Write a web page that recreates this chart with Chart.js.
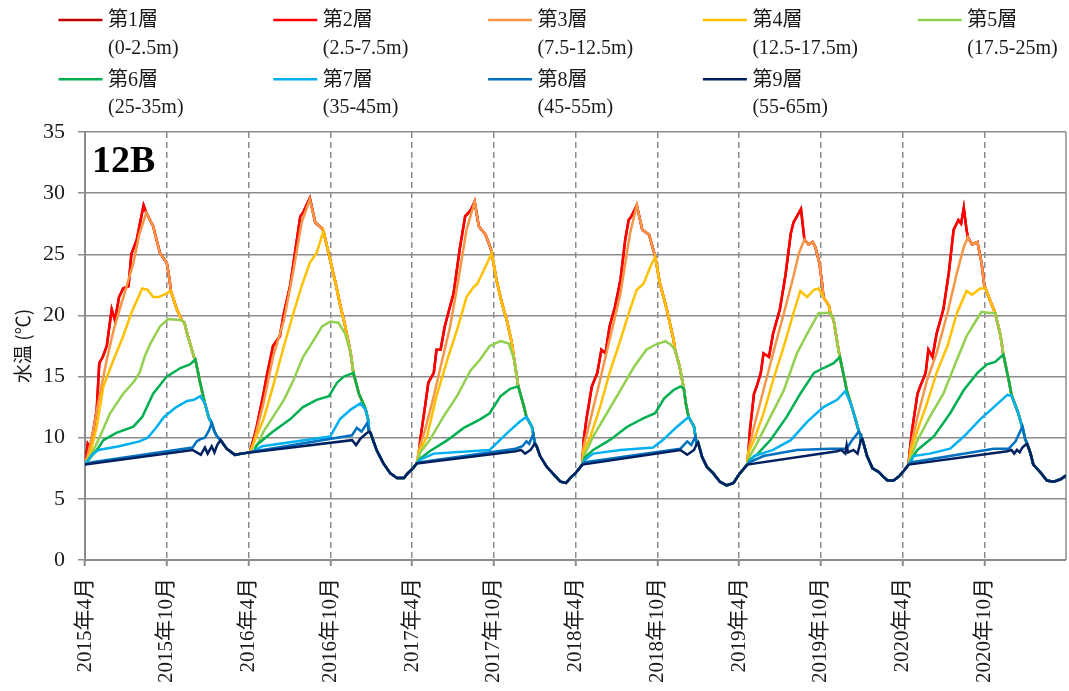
<!DOCTYPE html>
<html>
<head>
<meta charset="utf-8">
<script src="https://cdn.jsdelivr.net/npm/chart.js@4"></script>
<style>
  html, body { margin: 0; padding: 0; background: #fff; }
  #wrap { width: 1069px; height: 691px; position: relative; }
</style>
</head>
<body>
<div id="wrap"><canvas id="chart"></canvas></div>
<script>
// Legend text and colours
const layerNames = ['第1層', '第2層', '第3層', '第4層', '第5層', '第6層', '第7層', '第8層', '第9層'];
const layerDepths = ['(0-2.5m)', '(2.5-7.5m)', '(7.5-12.5m)', '(12.5-17.5m)', '(17.5-25m)',
                     '(25-35m)', '(35-45m)', '(45-55m)', '(55-65m)'];
const layerColors = ['#C00000', '#FF0000', '#F79646', '#FFC000', '#92D050',
                     '#00B050', '#00B0F0', '#0070C0', '#002060'];

// x axis: months since April 2015, one label every 6 months
const tickLabels = ['2015年4月', '2015年10月', '2016年4月', '2016年10月', '2017年4月', '2017年10月',
                    '2018年4月', '2018年10月', '2019年4月', '2019年10月', '2020年4月', '2020年10月'];

// [month, °C] where every layer reads the same (autumn turnover / winter)
const mixedTemp = [
  [0, 7.8],
  [9.95, 9.8], [10.4, 9.1], [11.0, 8.6], [11.5, 8.7], [12.1, 8.8],
  [20.95, 10.4], [21.4, 9.0], [21.9, 7.9], [22.4, 7.1], [22.9, 6.7], [23.4, 6.7], [23.7, 7.1], [24.0, 7.4], [24.35, 7.9],
  [33.15, 9.3], [33.4, 8.5], [33.9, 7.6], [34.4, 7.0], [34.9, 6.4], [35.3, 6.3], [35.7, 6.8], [36.0, 7.1], [36.5, 7.8],
  [45.0, 9.6], [45.3, 8.4], [45.65, 7.6], [46.1, 7.1], [46.6, 6.4], [47.1, 6.1], [47.6, 6.3], [48.0, 7.0], [48.6, 7.8],
  [57.05, 9.9], [57.4, 8.5], [57.8, 7.5], [58.25, 7.2], [58.6, 6.8], [58.9, 6.5], [59.35, 6.5], [59.8, 6.9], [60.1, 7.3], [60.45, 7.8],
  [69.15, 9.5], [69.4, 8.7], [69.6, 7.8], [70.1, 7.2], [70.6, 6.5], [71.1, 6.4], [71.6, 6.6], [72.0, 6.9]
];

// Per layer, per year: the stretch where the layer has its own reading
// (after that it runs on top of the next deeper layer)
const layer9 = [
  [[7.9, 9.0], [8.2, 8.8], [8.5, 8.6], [8.8, 9.2], [9.0, 8.7], [9.3, 9.3], [9.5, 8.8], [9.7, 9.4]],
  [[19.6, 9.8], [19.9, 9.4], [20.2, 9.9], [20.6, 10.3], [20.85, 10.5]],
  [[31.6, 8.9], [32.0, 9.0], [32.3, 8.7], [32.7, 9.0], [33.0, 9.5]],
  [[43.7, 9.0], [44.2, 8.6], [44.7, 9.0], [44.9, 9.5]],
  [[55.2, 8.9], [55.5, 9.0], [55.8, 8.7], [55.9, 9.4], [56.0, 8.8], [56.4, 9.0], [56.7, 8.7], [56.95, 9.8]],
  [[67.7, 8.9], [68.0, 9.0], [68.2, 8.7], [68.4, 9.0], [68.6, 8.8], [68.8, 9.2], [69.0, 9.4]]
];
const layer8 = [
  [[0.5, 8.0], [7.9, 9.2], [8.2, 9.7], [8.5, 9.9], [8.8, 10.0], [9.1, 10.6], [9.3, 11.2], [9.5, 10.5], [9.7, 10.1]],
  [[12.5, 8.9], [19.6, 10.2], [19.95, 10.8], [20.3, 10.5], [20.7, 11.2]],
  [[24.6, 8.0], [31.6, 9.1], [32.1, 9.3], [32.4, 9.7], [32.6, 9.5], [32.9, 10.3], [33.0, 9.6]],
  [[36.7, 8.0], [43.7, 9.1], [44.2, 9.7], [44.5, 9.4], [44.8, 10.1]],
  [[48.8, 8.0], [49.8, 8.5], [52.25, 9.0], [54.7, 9.1], [55.9, 9.1], [56.3, 9.8], [56.8, 10.5], [56.9, 10.3]],
  [[60.7, 8.0], [66.7, 9.1], [67.8, 9.1], [68.3, 9.7], [68.8, 10.9], [69.0, 9.9]]
];
const layer7 = [
  [[0.5, 8.6], [1.0, 9.0], [2.5, 9.3], [4.0, 9.7], [4.6, 10.0], [5.2, 10.8], [5.8, 11.7], [6.7, 12.5], [7.5, 13.0], [8.0, 13.1], [8.45, 13.4], [8.8, 12.8], [9.1, 11.6], [9.3, 11.2]],
  [[12.4, 8.9], [13.0, 9.3], [18.0, 10.1], [18.7, 11.5], [19.5, 12.3], [20.2, 12.8], [20.6, 12.3], [20.8, 11.4]],
  [[24.6, 8.2], [25.6, 8.7], [29.7, 9.0], [31.0, 10.4], [31.9, 11.3], [32.4, 11.7], [32.8, 10.9], [32.95, 10.0]],
  [[36.7, 8.2], [37.3, 8.7], [39.3, 9.0], [41.7, 9.2], [42.5, 9.9], [43.45, 10.9], [44.3, 11.7], [44.7, 10.9]],
  [[48.8, 8.1], [49.1, 8.5], [50.5, 9.0], [51.8, 9.8], [53.0, 11.3], [54.2, 12.5], [55.2, 13.1], [55.8, 13.8], [56.2, 12.8], [56.5, 11.7], [56.7, 10.9]],
  [[60.7, 8.2], [60.8, 8.5], [62.0, 8.7], [63.5, 9.1], [64.5, 10.1], [65.7, 11.5], [66.7, 12.5], [67.7, 13.5], [68.0, 13.4], [68.5, 12.0], [68.75, 11.0]]
];
const layer6 = [
  [[0.5, 8.5], [1.0, 9.2], [1.35, 9.8], [2.3, 10.4], [3.55, 10.9], [4.2, 11.7], [5.0, 13.6], [6.0, 15.0], [7.0, 15.7], [7.7, 16.0], [8.1, 16.4], [8.45, 14.5], [8.8, 12.8]],
  [[12.6, 9.4], [13.8, 10.5], [15.05, 11.5], [16.0, 12.5], [17.0, 13.1], [17.9, 13.4], [18.5, 14.5], [19.0, 15.0], [19.7, 15.3], [20.1, 13.6], [20.5, 12.6]],
  [[24.6, 8.3], [25.3, 8.9], [26.6, 9.8], [27.8, 10.8], [29.0, 11.5], [29.7, 12.0], [30.5, 13.4], [31.2, 14.0], [31.8, 14.2], [32.2, 12.6]],
  [[36.7, 8.4], [37.3, 9.0], [38.5, 9.8], [39.8, 10.9], [41.0, 11.6], [41.85, 12.0], [42.5, 13.2], [43.2, 13.9], [43.7, 14.2], [43.95, 14.0], [44.1, 12.8]],
  [[48.8, 8.2], [49.3, 8.6], [50.3, 9.8], [51.5, 11.7], [52.5, 13.6], [53.5, 15.3], [54.2, 15.7], [54.95, 16.1], [55.4, 16.6], [55.8, 14.5], [55.9, 13.9]],
  [[60.7, 8.3], [61.1, 9.0], [62.3, 10.1], [63.5, 12.0], [64.5, 13.9], [65.5, 15.3], [66.2, 16.0], [66.8, 16.2], [67.4, 16.8], [67.8, 14.7], [68.0, 13.5]]
];
const layer5 = [
  [[0.5, 8.7], [1.1, 10.1], [1.84, 12.0], [2.8, 13.6], [3.6, 14.6], [4.0, 15.3], [4.4, 16.7], [4.8, 17.7], [5.5, 19.1], [6.1, 19.7], [7.1, 19.6], [7.3, 19.4], [7.5, 18.5], [8.0, 16.6]],
  [[12.6, 9.3], [13.1, 10.5], [13.8, 11.7], [14.6, 13.1], [15.3, 14.7], [16.0, 16.6], [16.8, 18.0], [17.4, 19.1], [18.0, 19.5], [18.6, 19.4], [19.1, 18.5], [19.5, 16.9]],
  [[24.6, 8.8], [25.3, 9.8], [26.3, 11.7], [27.3, 13.4], [28.3, 15.5], [29.0, 16.4], [29.7, 17.5], [30.5, 17.9], [31.1, 17.7], [31.5, 16.4]],
  [[36.7, 8.7], [37.3, 10.1], [38.3, 12.0], [39.3, 13.9], [40.3, 15.8], [41.2, 17.2], [41.85, 17.6], [42.6, 17.9], [43.0, 17.6], [43.3, 17.2], [43.6, 16.0], [43.85, 14.6]],
  [[48.8, 8.5], [49.3, 9.5], [50.3, 11.7], [51.3, 13.9], [52.25, 16.9], [53.0, 18.5], [53.85, 20.2], [54.7, 20.2], [54.95, 19.6], [55.3, 17.2]],
  [[60.7, 8.6], [61.1, 9.8], [62.0, 11.7], [63.0, 13.6], [64.0, 16.4], [64.7, 18.3], [65.3, 19.4], [65.8, 20.3], [66.4, 20.2], [66.8, 20.2], [67.2, 18.3]]
];
const layer4 = [
  [[0.4, 8.8], [0.86, 10.9], [1.35, 14.2], [2.1, 16.4], [2.8, 18.3], [3.4, 20.2], [4.2, 22.2], [4.6, 22.1], [5.0, 21.5], [5.4, 21.5], [6.0, 21.8], [6.3, 22.0], [6.74, 20.5], [7.1, 19.6]],
  [[12.4, 9.6], [13.1, 11.5], [13.8, 14.2], [14.6, 17.5], [15.3, 20.2], [15.9, 22.4], [16.5, 24.3], [17.0, 25.1], [17.5, 26.9], [18.0, 24.5], [18.4, 22.6], [18.7, 21.0], [19.1, 19.1]],
  [[24.5, 8.8], [25.1, 10.1], [25.8, 13.4], [26.6, 16.4], [27.3, 18.8], [28.0, 21.5], [28.5, 22.3], [28.8, 22.6], [29.4, 24.0], [29.85, 25.1], [30.2, 22.9], [30.6, 21.0], [30.96, 19.6], [31.3, 17.9]],
  [[36.6, 8.9], [37.1, 10.1], [37.8, 12.5], [38.5, 15.3], [39.3, 18.0], [40.0, 20.5], [40.5, 22.1], [41.0, 22.6], [41.5, 24.0], [41.85, 24.8], [42.2, 22.6], [42.7, 20.5], [43.2, 18.0]],
  [[48.7, 8.8], [49.1, 9.8], [49.8, 12.0], [50.5, 14.7], [51.3, 17.5], [52.0, 20.2], [52.5, 22.0], [53.0, 21.5], [53.5, 22.1], [53.85, 22.2], [54.2, 21.5], [54.6, 20.8]],
  [[60.6, 8.8], [61.1, 10.6], [61.8, 12.8], [62.5, 15.3], [63.3, 17.5], [64.0, 20.2], [64.7, 22.0], [65.1, 21.7], [65.7, 22.2], [66.1, 22.2], [66.4, 21.3]]
];
const layer3 = [
  [[0.3, 9.0], [0.6, 10.6], [1.1, 13.6], [1.6, 16.4], [2.1, 18.8], [2.6, 20.7], [3.06, 22.4], [3.55, 24.3], [4.0, 26.7], [4.5, 28.4], [5.0, 27.3], [5.5, 25.1], [6.0, 24.3], [6.2, 23.0]],
  [[12.3, 9.3], [13.1, 12.8], [13.8, 16.6], [14.6, 19.6], [15.3, 23.7], [15.9, 27.6], [16.5, 29.5], [16.9, 27.6], [17.4, 27.1]],
  [[24.5, 9.0], [24.95, 10.6], [25.6, 13.4], [26.1, 15.8], [26.8, 19.1], [27.4, 22.9], [28.0, 27.0], [28.6, 29.3], [28.9, 27.3], [29.4, 26.6], [29.8, 25.4]],
  [[36.6, 9.3], [37.1, 11.5], [37.8, 14.7], [38.5, 18.0], [39.3, 21.8], [40.0, 26.7], [40.5, 29.0], [40.9, 27.0], [41.4, 26.6], [41.7, 25.4]],
  [[48.7, 9.0], [49.1, 10.9], [49.8, 13.9], [50.5, 16.9], [51.3, 20.2], [52.0, 23.2], [52.4, 25.1], [52.8, 26.2], [53.1, 25.8], [53.4, 26.0], [53.6, 25.6], [53.9, 24.3], [54.1, 22.6]],
  [[60.6, 9.2], [61.1, 11.7], [61.8, 14.7], [62.5, 16.9], [63.3, 20.2], [64.0, 23.5], [64.5, 25.6], [64.8, 26.4], [65.1, 25.8], [65.5, 26.0], [65.8, 24.3], [66.0, 22.5]]
];
const layer2 = [
  [[0.1, 8.6], [0.2, 9.5], [0.37, 9.2], [0.6, 10.5], [0.86, 12.3], [1.05, 16.1], [1.3, 16.6], [1.6, 17.5], [1.96, 20.5], [2.2, 19.6], [2.5, 21.5], [2.8, 22.2], [3.2, 22.4], [3.4, 25.0], [3.8, 26.2], [4.3, 29.0]],
  [[12.3, 9.6], [12.6, 10.9], [13.1, 13.6], [13.35, 15.1], [13.8, 17.5], [14.3, 18.3], [14.6, 20.2], [15.05, 22.4], [15.3, 24.3], [15.8, 28.1], [16.0, 28.4], [16.5, 29.6]],
  [[24.5, 8.6], [24.6, 9.8], [24.95, 12.5], [25.2, 14.5], [25.6, 15.3], [25.8, 17.2], [26.1, 17.2], [26.4, 19.1], [27.05, 21.8], [27.5, 25.4], [27.9, 28.1], [28.3, 28.6], [28.6, 29.3]],
  [[36.6, 9.8], [36.8, 11.5], [37.2, 14.2], [37.6, 15.3], [37.9, 17.2], [38.2, 16.9], [38.5, 19.1], [38.9, 20.7], [39.3, 22.9], [39.65, 26.2], [39.9, 27.8], [40.1, 28.1], [40.5, 29.0]],
  [[48.7, 9.0], [48.8, 10.6], [49.1, 13.6], [49.3, 14.2], [49.6, 15.3], [49.8, 16.9], [50.2, 16.6], [50.5, 18.5], [51.0, 20.5], [51.4, 23.2], [51.8, 26.7], [52.0, 27.6], [52.25, 28.1], [52.55, 28.7]],
  [[60.5, 8.6], [60.7, 10.6], [61.1, 13.6], [61.3, 14.2], [61.7, 15.3], [61.9, 17.2], [62.2, 16.6], [62.5, 18.5], [63.0, 20.5], [63.4, 23.5], [63.75, 27.0], [64.1, 27.8], [64.3, 27.5], [64.5, 28.8], [64.7, 27.0]]
];
// layer 1 reads the same as layer 2 everywhere on the plot (it sits underneath it)
const layer1 = layer2;

// own readings + the deeper layer's line outside the own stretches
function buildLayer(own, deeper) {
  const spans = own.map(seg => [seg[0][0], seg[seg.length - 1][0]]);
  const pts = own.flat();
  deeper.forEach(p => {
    if (!spans.some(([a, b]) => p[0] >= a && p[0] <= b)) pts.push(p);
  });
  return pts.sort((p, q) => p[0] - q[0]);
}

const ownByLayer = [layer1, layer2, layer3, layer4, layer5, layer6, layer7, layer8, layer9];
const fullByLayer = [];
let deeper = mixedTemp;
for (let i = 8; i >= 0; i--) {
  fullByLayer[i] = buildLayer(ownByLayer[i], deeper);
  deeper = fullByLayer[i];
}

const GRID = '#8c8c8c';
const SERIF = '"Liberation Serif", "Noto Sans CJK JP", serif';
Chart.defaults.font.family = SERIF;
Chart.defaults.color = '#1a1a1a';

// plot frame (left, bottom, right) in solid grey
const framePlugin = {
  id: 'frame',
  beforeDatasetsDraw(chart) {
    const {ctx, chartArea: a} = chart;
    ctx.save();
    ctx.strokeStyle = GRID;
    ctx.lineWidth = 2;
    ctx.beginPath();
    ctx.moveTo(a.left, a.top);
    ctx.lineTo(a.left, a.bottom);
    ctx.lineTo(a.right, a.bottom);
    ctx.stroke();
    ctx.lineWidth = 1.5;
    ctx.beginPath();
    ctx.moveTo(a.right, a.top);
    ctx.lineTo(a.right, a.bottom);
    ctx.stroke();
    ctx.restore();
  }
};

// two-line legend in 5 columns above the plot, and the "12B" tag
const legendPlugin = {
  id: 'layerLegend',
  afterDraw(chart) {
    const ctx = chart.ctx;
    ctx.save();
    ctx.font = '20px ' + SERIF;
    ctx.textBaseline = 'middle';
    ctx.textAlign = 'left';
    layerNames.forEach((name, i) => {
      const col = i % 5, row = Math.floor(i / 5);
      const x = 58.5 + col * 214.8;
      const y = 20 + row * 59.3;
      ctx.strokeStyle = layerColors[i];
      ctx.lineWidth = 2.5;
      ctx.beginPath();
      ctx.moveTo(x, y);
      ctx.lineTo(x + 44, y);
      ctx.stroke();
      ctx.fillStyle = '#1a1a1a';
      ctx.fillText(name, x + 49.5, y + 1);
      ctx.fillText(layerDepths[i], x + 49.5, y + 28.5);
    });
    ctx.font = 'bold 38px ' + SERIF;
    ctx.textBaseline = 'alphabetic';
    ctx.fillStyle = '#000';
    ctx.fillText('12B', 92, 171.5);
    ctx.restore();
  }
};

const datasets = layerNames.map((name, i) => ({
  label: name,
  data: fullByLayer[i].map(p => ({x: p[0], y: p[1]})),
  borderColor: layerColors[i],
  borderWidth: 2.5,
  pointRadius: 0,
  tension: 0,
  fill: false,
  order: 9 - i   // deepest layer drawn on top
}));

new Chart(document.getElementById('chart'), {
  type: 'line',
  data: {datasets},
  options: {
    responsive: true,
    maintainAspectRatio: false,
    animation: false,
    layout: {padding: {top: 132, right: 3, left: 0, bottom: 0}},
    plugins: {legend: {display: false}, tooltip: {enabled: false}},
    scales: {
      x: {
        type: 'linear',
        min: 0,
        max: 72,
        afterFit: s => { s.height = 131; s.paddingLeft = 0; s.paddingRight = 0; },
        ticks: {
          stepSize: 6,
          autoSkip: false,
          minRotation: 90,
          maxRotation: 90,
          padding: 12,
          font: {size: 21},
          color: '#1a1a1a',
          callback: v => tickLabels[v / 6] || ''
        },
        grid: {
          color: c => (c.tick && c.tick.value % 72 === 0) ? 'rgba(0,0,0,0)' : GRID,
          lineWidth: 1.5,
          tickLength: 6,
          tickWidth: 2,
          tickColor: c => (c.tick && c.tick.value === 72) ? 'rgba(0,0,0,0)' : GRID,
          tickBorderDash: []
        },
        border: {display: false, dash: [6, 4]}
      },
      y: {
        min: 0,
        max: 35,
        afterFit: s => { s.width = 85; s.paddingTop = 0; s.paddingBottom = 0; },
        ticks: {stepSize: 5, padding: 13, font: {size: 22}, color: '#1a1a1a'},
        grid: {color: GRID, lineWidth: 1.5, tickLength: 7, tickColor: GRID},
        border: {display: false},
        title: {
          display: true,
          text: '水温 (℃)',
          font: {family: '"Noto Sans CJK JP", sans-serif', size: 19},
          color: '#1a1a1a',
          padding: {top: 11, bottom: 0}
        }
      }
    }
  },
  plugins: [framePlugin, legendPlugin]
});
</script>
</body>
</html>
